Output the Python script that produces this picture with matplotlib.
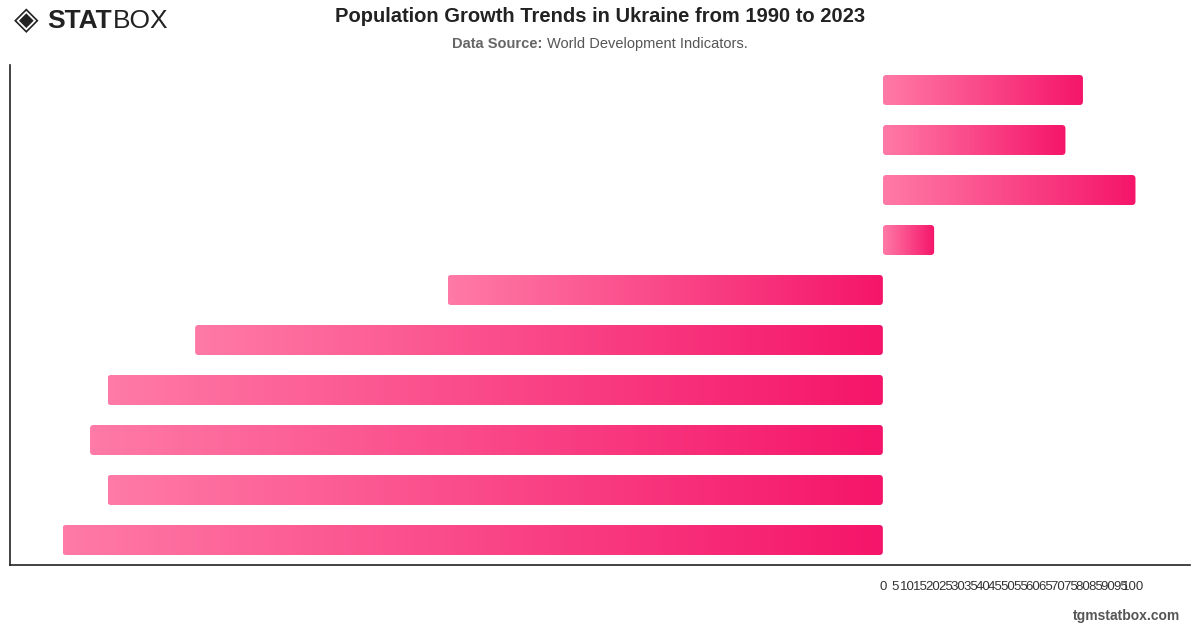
import numpy as np
import matplotlib
matplotlib.use("Agg")
import matplotlib.pyplot as plt
from matplotlib.patches import FancyBboxPatch
from matplotlib.colors import LinearSegmentedColormap

years = ["1990", "1991", "1992", "1993", "1994", "1995", "1996", "1997", "1998", "1999"]
growth = [80, 73, 101, 20.5, -174, -275, -310, -317, -310, -328]
tick_values = list(range(0, 101, 5))
tick_labels = [str(v) for v in tick_values]

plt.rcParams['font.family'] = ['Liberation Sans', 'DejaVu Sans']

fig = plt.figure(figsize=(12, 6.28), dpi=100)
ax = fig.add_axes([10/1200, 1 - 565/628, 1180/1200, 500/628])

cmap = LinearSegmentedColormap.from_list("pink", ["#FF7AA6", "#F5156A"])
grad = np.linspace(0, 1, 256).reshape(1, -1)

y = np.arange(len(years))
bars = ax.barh(y, growth, height=0.6, color="none", edgecolor="none")
ax.set_xlim(-349, 122.8)
ax.set_ylim(len(years) - 0.5, -0.5)

px_x = 2.5   # pixels per x unit
px_y = 50.0  # pixels per y unit
r_px = 3.5
for b in bars:
    x0, w = b.get_x(), b.get_width()
    if w < 0:
        x0, w = x0 + w, -w
    y0, h = b.get_y(), b.get_height()
    patch = FancyBboxPatch((x0, y0), w, h,
                           boxstyle=f"round,pad=0,rounding_size={r_px/px_x}",
                           mutation_aspect=px_x/px_y,
                           facecolor="none", edgecolor="none")
    ax.add_patch(patch)
    im = ax.imshow(grad, cmap=cmap, aspect="auto",
                   extent=(x0, x0 + w, y0 + h, y0), interpolation="bicubic", zorder=2)
    im.set_clip_path(patch)

ax.set_xlim(-349, 122.8)
ax.set_ylim(len(years) - 0.5, -0.5)

ax.set_xticks(tick_values)
ax.set_xticklabels(tick_labels, fontsize=9.5, color="#333333")
ax.tick_params(axis="x", length=0, pad=11.5)
ax.set_yticks([])
for s in ["top", "right"]:
    ax.spines[s].set_visible(False)
for s in ["left", "bottom"]:
    ax.spines[s].set_color("#222222")
    ax.spines[s].set_linewidth(1.2)

fig.text(600/1200, 1 - 17/628, "Population Growth Trends in Ukraine from 1990 to 2023",
         ha="center", va="center", fontsize=14.5, fontweight="bold", color="#222222")
fig.canvas.draw()
r = fig.canvas.get_renderer()
a = fig.text(0, 1 - 44/628, "Data Source: ", fontsize=10.5, fontweight="bold", color="#666666", va="center")
bb = fig.text(0, 1 - 44/628, "World Development Indicators.", fontsize=10.5, color="#555555", va="center")
wa = a.get_window_extent(r).width
wb = bb.get_window_extent(r).width
start = 600 - (wa + wb) / 2
a.set_x(start / 1200)
bb.set_x((start + wa) / 1200)

fig.text(1180/1200, 1 - 616/628, "tgmstatbox.com", ha="right", va="center",
         fontsize=10, fontweight="bold", color="#555555")

# logo
fig.text(14/1200, 1 - 21/628, "\u25C8", fontsize=23, color="#222222", va="center", ha="left",
         family="DejaVu Sans")
s = fig.text(47/1200, 1 - 21/628, "STAT", fontsize=19, fontweight="bold", color="#222222",
             va="center", ha="left")
ws = s.get_window_extent(r).width
fig.text((47 + ws + 1)/1200, 1 - 21/628, "BOX", fontsize=19, color="#222222",
         va="center", ha="left")

fig.savefig("out.png", dpi=100)
